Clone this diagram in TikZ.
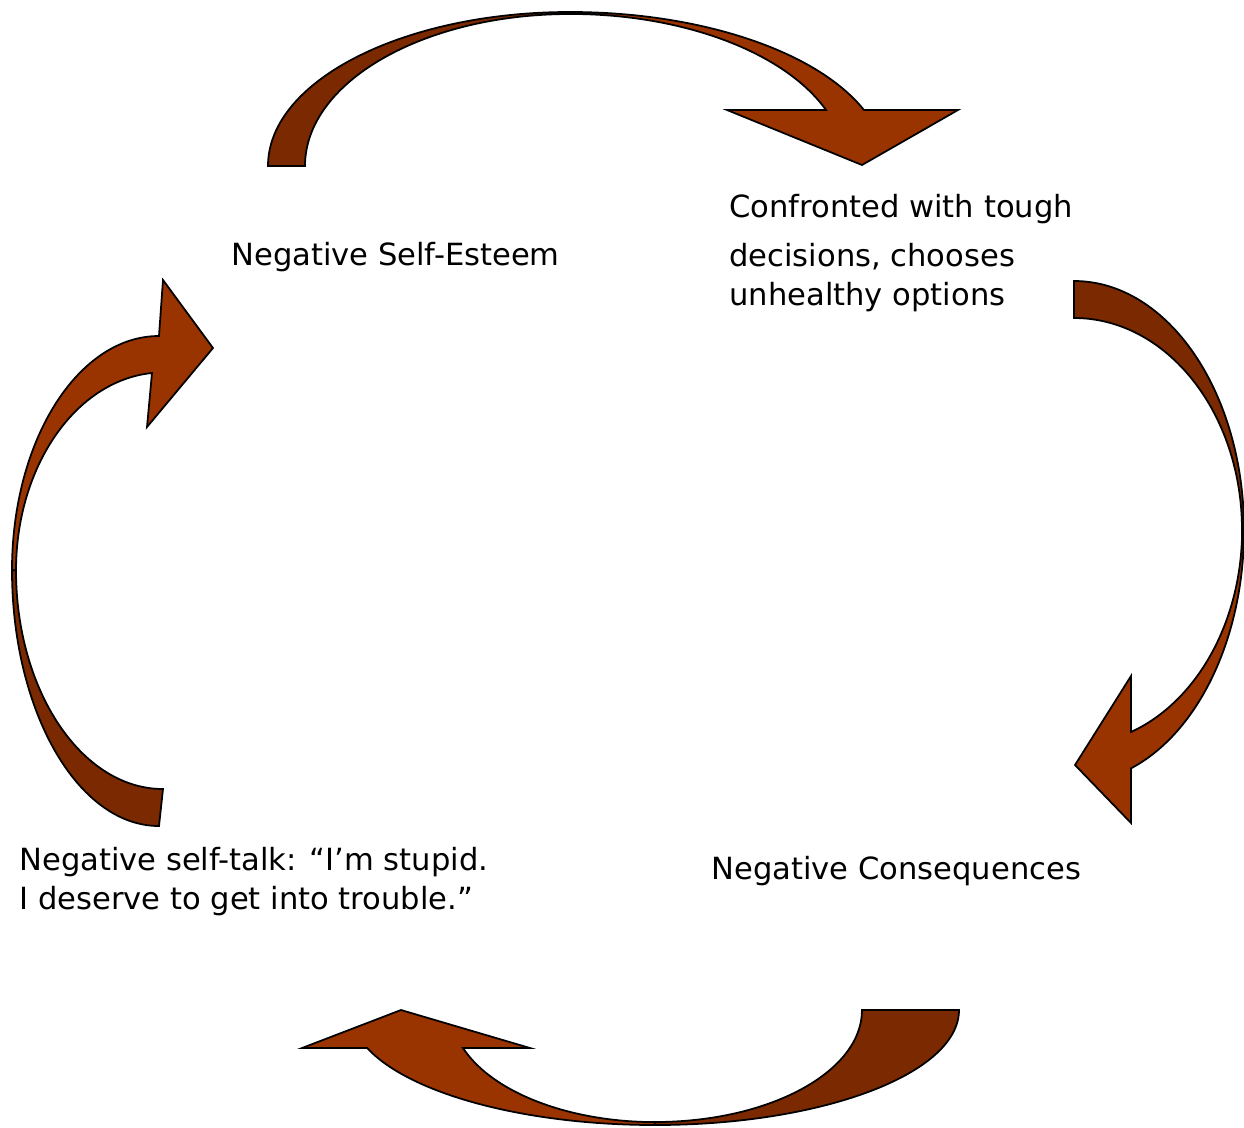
\documentclass[tikz,border=0pt]{standalone}
\usepackage{fontspec}
\setmainfont{DejaVu Sans}
\usepackage{tikz}
\usetikzlibrary{positioning}
\definecolor{arrowdark}{RGB}{122,41,0}
\definecolor{arrowlight}{RGB}{153,51,0}
\tikzstyle{backface} = [draw=black, line width=1pt, line join=miter, fill=arrowdark]
\tikzstyle{frontface} = [draw=black, line width=1pt, line join=miter, fill=arrowlight]
\tikzstyle{stage} = [inner sep=0pt, align=left, anchor=base west, font=\fontsize{17.4}{21.8}\selectfont]

\begin{document}
\begin{tikzpicture}[x=0.02cm, y=-0.02cm]
        \useasboundingbox (0,0) rectangle (1244,1127);

        % top arrow
        \draw [backface] (268,166) arc[start angle=180, end angle=270, x radius=302, y radius=154]
                -- (570,14) arc[start angle=270, end angle=180, x radius=265, y radius=152] -- cycle;
        \draw [frontface] (570,12) arc[start angle=270, end angle=338.7, x radius=315.6, y radius=154]
                -- (958,110) -- (862,165) -- (727,110) -- (826,110)
                arc[start angle=338.4, end angle=270, x radius=275.3, y radius=152] -- cycle;

        % right arrow
        \draw [backface] (1074,281) arc[start angle=270, end angle=360, x radius=170, y radius=249]
                -- (1242,530) arc[start angle=0, end angle=-90, x radius=168, y radius=212] -- cycle;
        \draw [frontface] (1244,530) arc[start angle=0, end angle=70.4, x radius=170, y radius=253]
                -- (1131,823) -- (1075,765) -- (1131,676) -- (1131,732)
                arc[start angle=70.2, end angle=0, x radius=168, y radius=215] -- cycle;

        % bottom arrow
        \draw [backface] (959,1010) arc[start angle=0, end angle=90, x radius=304, y radius=115]
                -- (655,1122) arc[start angle=90, end angle=0, x radius=207, y radius=112] -- cycle;
        \draw [frontface] (655,1125) arc[start angle=90, end angle=160.7, x radius=305, y radius=115]
                -- (302,1048) -- (401,1010) -- (530,1048) -- (463,1048)
                arc[start angle=160.2, end angle=90, x radius=204, y radius=112] -- cycle;

        % left arrow
        \draw [backface] (159,826) arc[start angle=90, end angle=180, x radius=147, y radius=256]
                -- (16,570) arc[start angle=180, end angle=90, x radius=147, y radius=219] -- cycle;
        \draw [frontface] (12,570) arc[start angle=180, end angle=270, x radius=147, y radius=234]
                -- (163,280) -- (213,348) -- (147,427) -- (152,373)
                arc[start angle=265.7, end angle=180, x radius=147, y radius=198] -- cycle;

        % base anchor sits on the last line
        \node (esteem) [stage] at (231,265) {Negative Self-Esteem};
        \node (choices) [stage] at (729,305) {Confronted with tough\\[6pt]decisions, chooses\\unhealthy options};
        \node (consequences) [stage] at (711,879) {Negative Consequences};
        \node (selftalk) [stage] at (19,909) {Negative self-talk: “I’m stupid.\\I deserve to get into trouble.”};
\end{tikzpicture}
\end{document}
